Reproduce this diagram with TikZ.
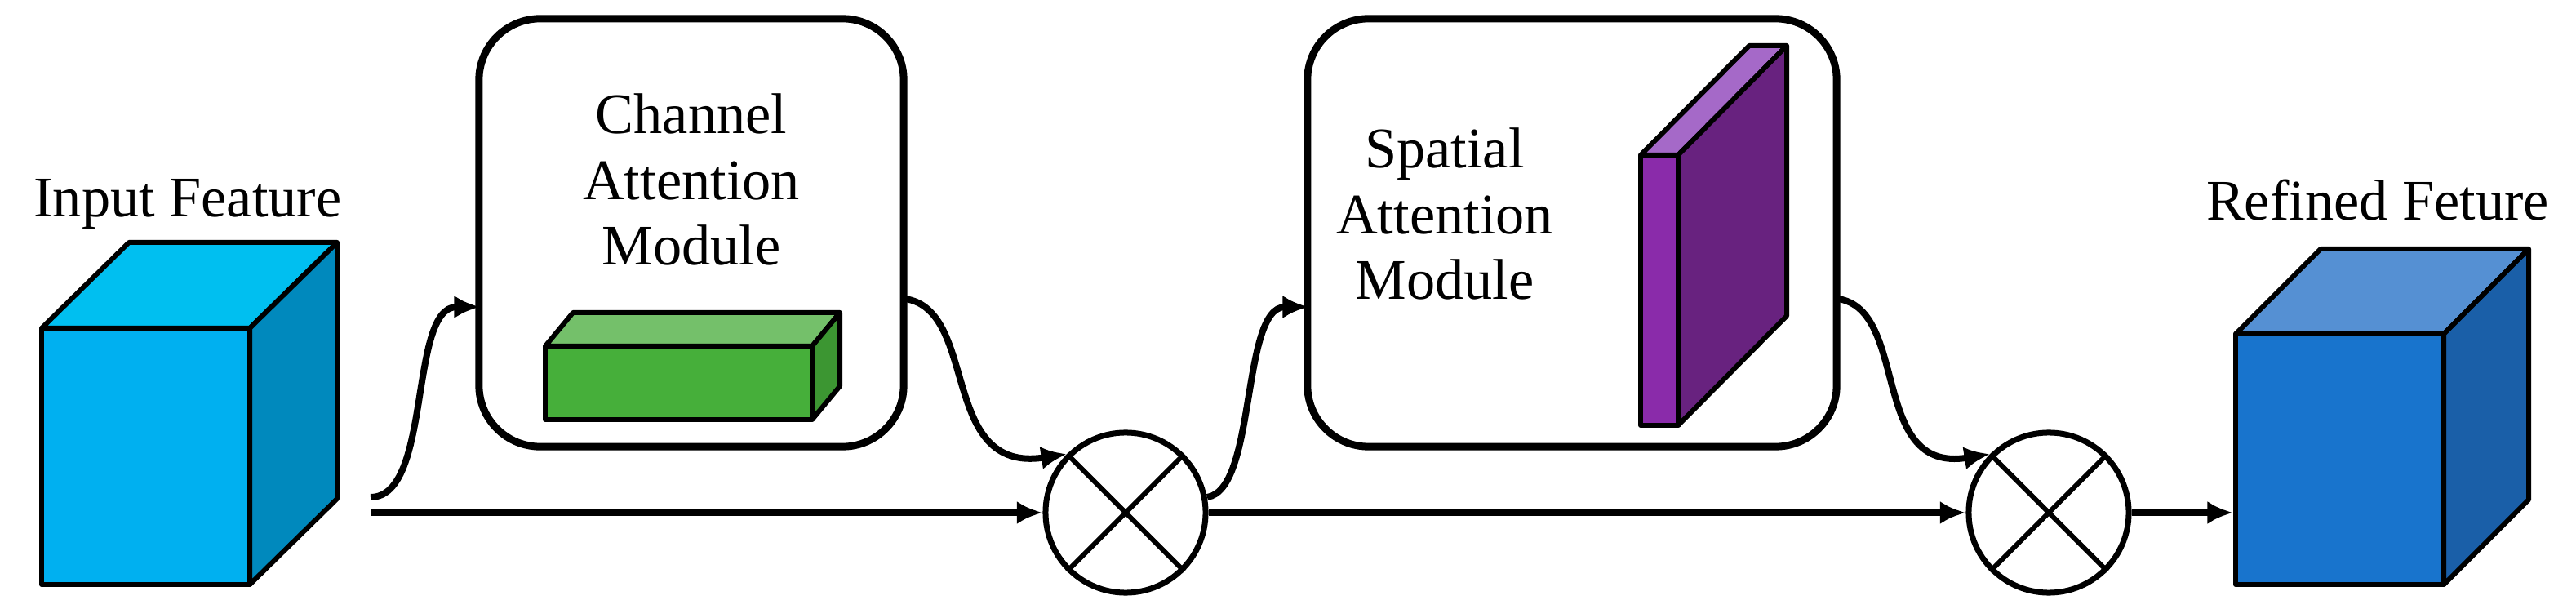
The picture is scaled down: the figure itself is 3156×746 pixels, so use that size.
\documentclass[tikz,border=0pt]{standalone}
\usepackage{fontspec}
\setmainfont{Liberation Serif}
\usetikzlibrary{arrows.meta,shapes.misc}
\definecolor{inF}{HTML}{00B0F0}\definecolor{inT}{HTML}{00BFF0}\definecolor{inS}{HTML}{0089BD}
\definecolor{gF}{HTML}{46AF3A}\definecolor{gT}{HTML}{74C06A}\definecolor{gS}{HTML}{3C9632}
\definecolor{pF}{HTML}{8A2BAA}\definecolor{pT}{HTML}{A569C8}\definecolor{pS}{HTML}{68227F}
\definecolor{bF}{HTML}{1874CD}\definecolor{bT}{HTML}{5590D3}\definecolor{bS}{HTML}{1A5FA8}
\newcommand{\mycube}[9]{% x y w h dx dy front top side
  \filldraw[fill=#7,line width=0.06cm,line join=round] (#1,#2) rectangle ++(#3,#4);
  \filldraw[fill=#8,line width=0.06cm,line join=round] (#1,#2) -- ++(#5,#6) -- ++(#3,0) -- ++(-#5,-#6) -- cycle;
  \filldraw[fill=#9,line width=0.06cm,line join=round] (#1+#3,#2) -- ++(#5,#6) -- ++(0,#4) -- ++(-#5,-#6) -- cycle;}
\tikzset{
  modbox/.style={draw,line width=0.09cm,rounded corners=0.75cm,fill=white},
  lbl/.style={font=\fontsize{20}{26}\selectfont,align=center},
  mult/.style={draw,circle,cross out,line width=0.07cm,minimum size=1.96cm,inner sep=0pt},
  mul/.style={draw,circle,line width=0.07cm,minimum size=1.96cm,inner sep=0pt},
  conn/.style={line width=0.08cm,-{Latex[length=9pt,width=8pt]}}
}
\begin{document}
\begin{tikzpicture}[x=0.01cm,y=-0.01cm]
\useasboundingbox (0,0) rectangle (3156,746);
% input cube
\mycube{51}{402}{255}{314}{107}{-105}{inF}{inT}{inS}
\node[lbl] (tin) at (230,250) {Input Feature};
% channel module
\node[modbox,minimum width=5.2cm,minimum height=5.24cm] (cab) at (847,285) {};
\node[lbl] (tcab) at (847,220) {Channel\\[-3pt]Attention\\[-3pt]Module};
\mycube{668}{424}{327}{90}{34}{-41}{gF}{gT}{gS}
% spatial module
\node[modbox,minimum width=6.48cm,minimum height=5.24cm] (sab) at (1926,285) {};
\node[lbl] (tsab) at (1770,262) {Spatial\\[-3pt]Attention\\[-3pt]Module};
\mycube{2010}{190}{46}{331}{133}{-134}{pF}{pT}{pS}
% refined cube
\mycube{2739}{409}{255}{307}{104}{-104}{bF}{bT}{bS}
\node[lbl] (tout) at (2913,245) {Refined Feture};
% multipliers
\node[mul] (m1) at (1379,628) {};
\node[mul] (m2) at (2510,628) {};
\draw[line width=0.06cm] (m1.north west)--(m1.south east) (m1.north east)--(m1.south west);
\draw[line width=0.06cm] (m2.north west)--(m2.south east) (m2.north east)--(m2.south west);
% connectors
\coordinate (s0) at (454,628);
\coordinate (s1) at (454,609);
\coordinate (cin) at (588,376);
\coordinate (cout) at (1109,366);
\coordinate (m1out) at (1479,609);
\coordinate (sin) at (1603,376);
\coordinate (sout) at (2252,366);
\draw[conn] (s0) -- (m1.west);
\draw[conn] (s1) .. controls (530,609) and (500,376) .. (cin);
\draw[conn] (cout) .. controls (1200,380) and (1150,580) .. (m1.north west);
\draw[conn] (m1.east) -- (m2.west);
\draw[conn] (m1out) .. controls (1540,600) and (1520,376) .. (sin);
\draw[conn] (sout) .. controls (2340,380) and (2290,580) .. (m2.north west);
\draw[conn] (m2.east) -- (2736,628);
\end{tikzpicture}
\end{document}
